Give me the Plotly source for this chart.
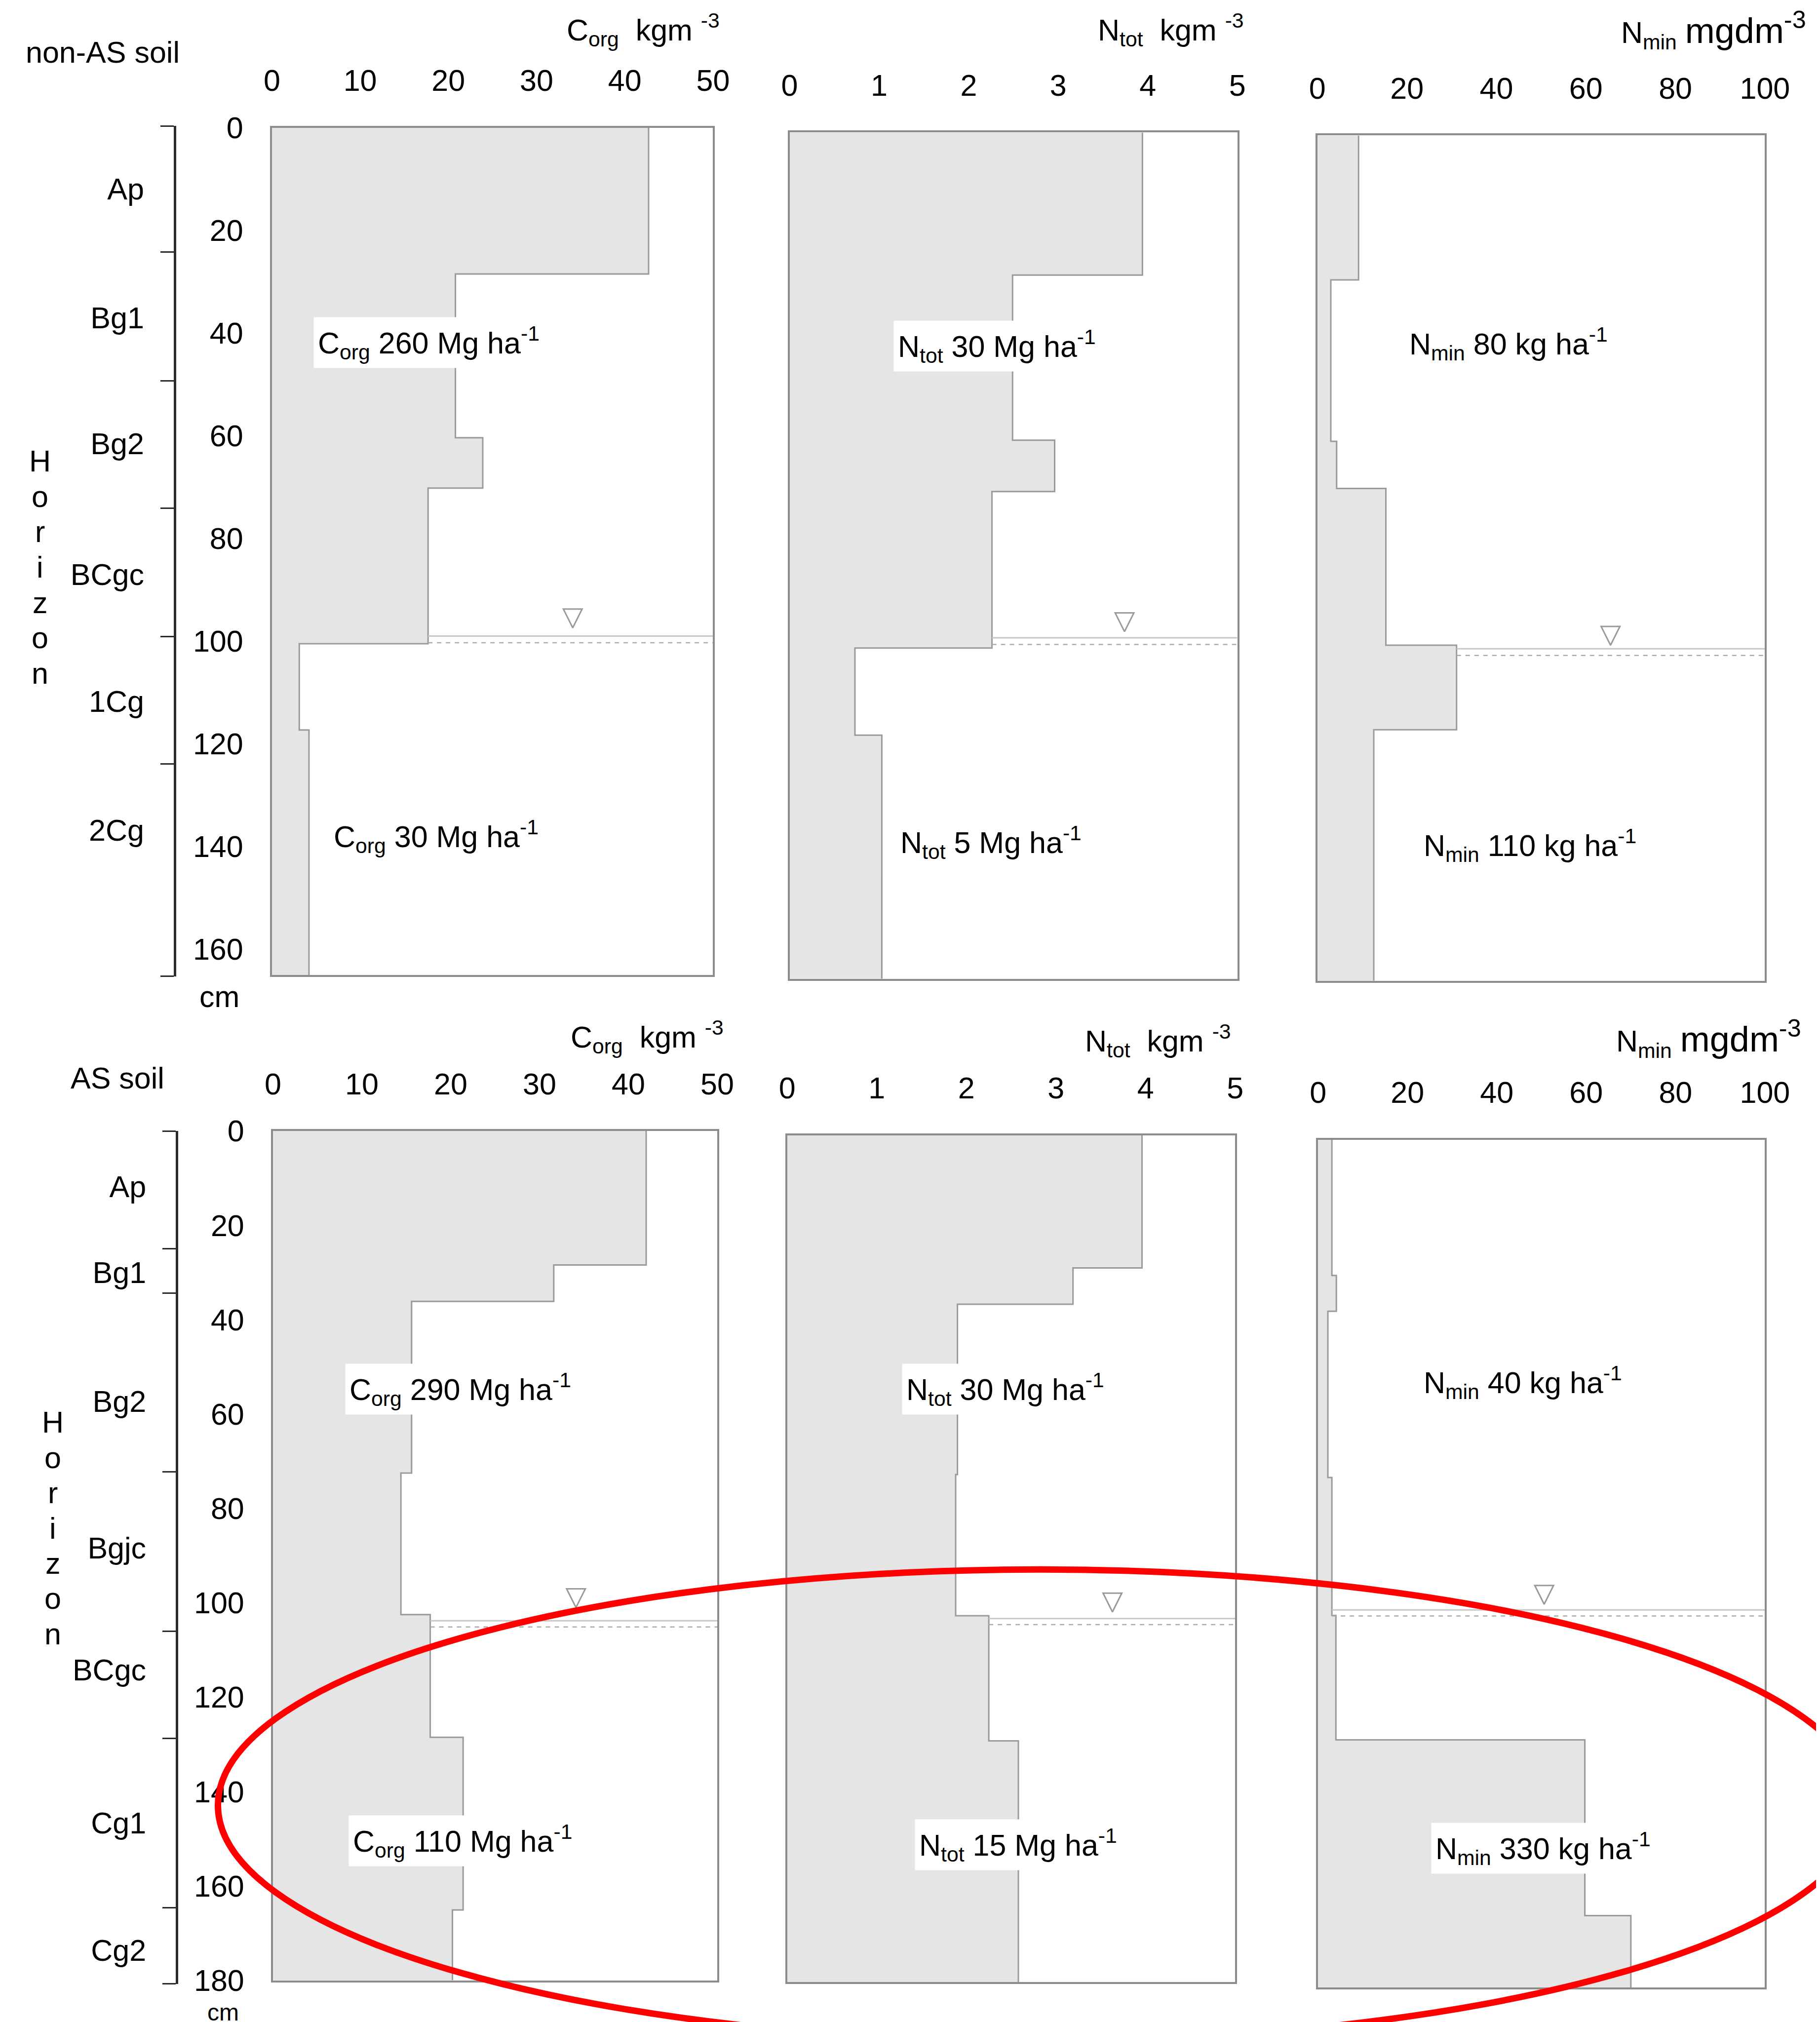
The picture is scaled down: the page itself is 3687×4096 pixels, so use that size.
import plotly.graph_objects as go

# ---------------- data ----------------
corg_ticks = [0, 10, 20, 30, 40, 50]
ntot_ticks = [0, 1, 2, 3, 4, 5]
nmin_ticks = [0, 20, 40, 60, 80, 100]
depth_ticks_top = [0, 20, 40, 60, 80, 100, 120, 140, 160]
depth_ticks_bottom = [0, 20, 40, 60, 80, 100, 120, 140, 160, 180]

# non-AS soil: layer boundaries (cm) and values per layer
top_corg_bounds = [0, 28.5, 60.4, 70.2, 100.5, 117.3, 165]
top_corg_vals = [42.7, 20.8, 23.9, 17.7, 3.1, 4.2]
top_ntot_bounds = [0, 27.8, 60, 70, 100.5, 117.5, 165]
top_ntot_vals = [3.94, 2.49, 2.96, 2.26, 0.73, 1.03]
top_nmin_bounds = [0, 28.2, 59.7, 68.9, 99.5, 116, 165]
top_nmin_vals = [9.2, 3.0, 4.3, 15.3, 31.1, 12.6]

# AS soil
bot_corg_bounds = [0, 28.4, 36.1, 72.5, 102.5, 128.5, 165.1, 180]
bot_corg_vals = [42.0, 31.6, 15.6, 14.4, 17.7, 21.4, 20.2]
bot_ntot_bounds = [0, 28.2, 35.9, 72.1, 102.1, 128.7, 180]
bot_ntot_vals = [3.96, 3.19, 1.90, 1.88, 2.25, 2.58]
bot_nmin_bounds = [0, 28.8, 36.4, 71.7, 101, 127.4, 164.7, 180]
bot_nmin_vals = [3.1, 4.1, 2.2, 3.1, 4.0, 59.7, 70.0]

top_horizons = ["Ap", "Bg1", "Bg2", "BCgc", "1Cg", "2Cg"]
top_horizon_mid = [12.2, 37.2, 61.6, 87, 111.6, 136.6]
top_horizon_bounds = [0, 24.4, 49.4, 74.2, 99.1, 123.8, 165]
bot_horizons = ["Ap", "Bg1", "Bg2", "Bgjc", "BCgc", "Cg1", "Cg2"]
bot_horizon_mid = [11.8, 30, 57.3, 88.4, 114.2, 146.7, 173.7]
bot_horizon_bounds = [0, 24.9, 34.4, 72.2, 106, 128.8, 164.7, 180.8]

# groundwater level (cm) and the triangle marker tip (value, depth) per panel
gw_depth = [99, 98.5, 100.2, 103.8, 102.7, 99.8]
gw_mark_x = [34.1, 3.74, 65.5, 34.1, 3.63, 50.6]
gw_mark_y = [97.4, 97.3, 99.5, 101.0, 101.3, 98.6]

# stock labels per panel: [upper, lower]
stock_text = [
    ["C<sub>org</sub> 260 Mg ha<sup>-1</sup>", "C<sub>org</sub> 30 Mg ha<sup>-1</sup>"],
    ["N<sub>tot</sub> 30 Mg ha<sup>-1</sup>", "N<sub>tot</sub> 5 Mg ha<sup>-1</sup>"],
    ["N<sub>min</sub> 80 kg ha<sup>-1</sup>", "N<sub>min</sub> 110 kg ha<sup>-1</sup>"],
    ["C<sub>org</sub> 290 Mg ha<sup>-1</sup>", "C<sub>org</sub> 110 Mg ha<sup>-1</sup>"],
    ["N<sub>tot</sub> 30 Mg ha<sup>-1</sup>", "N<sub>tot</sub> 15 Mg ha<sup>-1</sup>"],
    ["N<sub>min</sub> 40 kg ha<sup>-1</sup>", "N<sub>min</sub> 330 kg ha<sup>-1</sup>"],
]
stock_x = [[4.7, 6.5], [1.16, 1.19], [19.6, 22.7], [8.1, 8.5], [1.28, 1.42], [22.6, 25.3]]
stock_y = [[41.9, 138], [41.6, 138.4], [40.6, 138.5], [54.7, 150.4], [54.0, 150.8], [51.5, 150.4]]

# ---------------- layout helpers ----------------
W, H = 3687, 4096
PW, PH = 1412.0, 1568.0   # design frame (proportional to window)


def px(x):
    return x / PW


def py(y):
    return 1 - y / PH


FONT = "Liberation Sans, Arial, sans-serif"
FS = 61
FILL = "#e5e5e5"
EDGE = "#9a9a9a"
FRAME = "#8c8c8c"
TRI = "#9a9a9a"

profiles = [
    (top_corg_bounds, top_corg_vals, 50, corg_ticks, 165),
    (top_ntot_bounds, top_ntot_vals, 5, ntot_ticks, 165),
    (top_nmin_bounds, top_nmin_vals, 100, nmin_ticks, 165),
    (bot_corg_bounds, bot_corg_vals, 50, corg_ticks, 180),
    (bot_ntot_bounds, bot_ntot_vals, 5, ntot_ticks, 180),
    (bot_nmin_bounds, bot_nmin_vals, 100, nmin_ticks, 180),
]
# panel frames in design coords: (left, right, top, bottom)
boxes = [
    (207.9, 550.1, 95.9, 753.0),
    (609.5, 956.9, 99.7, 756.0),
    (1019.0, 1366.2, 102.0, 757.5),
    (208.7, 553.4, 874.0, 1532.6),
    (607.7, 955.2, 877.3, 1534.1),
    (1019.5, 1366.2, 880.8, 1538.3),
]

fig = go.Figure()
layout = dict(
    width=W, height=H, margin=dict(l=0, r=0, t=0, b=0, pad=0, autoexpand=False),
    paper_bgcolor="white", plot_bgcolor="white", showlegend=False,
    font=dict(family=FONT, size=FS, color="black"),
)
annotations = []


def value_at(bounds, vals, d):
    for i in range(len(vals)):
        if bounds[i] <= d < bounds[i + 1]:
            return vals[i]
    return vals[-1]


for i, (bounds, vals, xmax, xticks, dmax) in enumerate(profiles):
    n = i + 1
    xa = "x" if n == 1 else f"x{n}"
    ya = "y" if n == 1 else f"y{n}"
    l, r, t, b = boxes[i]
    xs, ys = [], []
    for k, v in enumerate(vals):
        xs += [v, v]
        ys += [bounds[k], bounds[k + 1]]
    fig.add_trace(go.Scatter(x=xs, y=ys, xaxis=xa, yaxis=ya, mode="lines",
                             fill="tozerox", fillcolor=FILL,
                             line=dict(color=EDGE, width=3), hoverinfo="skip"))
    # groundwater
    g = gw_depth[i]
    x0 = value_at(bounds, vals, g)
    fig.add_trace(go.Scatter(x=[x0, xmax], y=[g, g], xaxis=xa, yaxis=ya, mode="lines",
                             line=dict(color="#c8c8c8", width=3), hoverinfo="skip"))
    fig.add_trace(go.Scatter(x=[x0, xmax], y=[g + 1.3, g + 1.3], xaxis=xa, yaxis=ya,
                             mode="lines", line=dict(color="#ababab", width=2.5, dash="dash"),
                             hoverinfo="skip"))
    fig.add_trace(go.Scatter(x=[gw_mark_x[i]], y=[gw_mark_y[i]], xaxis=xa, yaxis=ya,
                             mode="markers", hoverinfo="skip",
                             marker=dict(symbol="arrow-down-open", size=38, color=TRI,
                                         line=dict(color=TRI, width=3))))
    show_y = i in (0, 3)
    layout["xaxis" if n == 1 else f"xaxis{n}"] = dict(
        domain=[px(l), px(r)], anchor=ya, side="top", range=[0, xmax],
        tickmode="array", tickvals=xticks, ticks="", showgrid=False, zeroline=False,
        showline=True, mirror=True, linecolor=FRAME, linewidth=4,
        ticklabelstandoff=46, tickfont=dict(size=FS),
    )
    layout["yaxis" if n == 1 else f"yaxis{n}"] = dict(
        domain=[py(b), py(t)], anchor=xa, range=[dmax, 0],
        tickmode="array", tickvals=(depth_ticks_top if i < 3 else depth_ticks_bottom),
        showticklabels=show_y, ticks="", showgrid=False, zeroline=False,
        showline=True, mirror=True, linecolor=FRAME, linewidth=4,
        ticklabelstandoff=42, tickfont=dict(size=FS),
    )
    for j in range(2):
        annotations.append(dict(
            text=stock_text[i][j], x=stock_x[i][j], y=stock_y[i][j], xref=xa, yref=ya,
            xanchor="left", yanchor="middle", showarrow=False, bgcolor="white",
            borderpad=8, font=dict(size=FS)))

# horizon scales
hz = [
    (7, 133.7, 94.7, 754.0, 165, top_horizons, top_horizon_mid, top_horizon_bounds),
    (8, 135.3, 874.0, 1535.4, 180.8, bot_horizons, bot_horizon_mid, bot_horizon_bounds),
]
for n, xline, ytop, ybot, dmax, names, mids, hb in hz:
    fig.add_trace(go.Scatter(x=[None], y=[None], xaxis=f"x{n}", yaxis=f"y{n}",
                             mode="lines", hoverinfo="skip"))
    layout[f"xaxis{n}"] = dict(domain=[px(xline), px(xline) + 0.01], anchor=f"y{n}",
                               visible=False, range=[0, 1])
    layout[f"yaxis{n}"] = dict(
        domain=[py(ybot), py(ytop)], anchor=f"x{n}", range=[dmax, 0], side="left",
        showline=True, linecolor="#2b2b2b", linewidth=5, showgrid=False, zeroline=False,
        tickmode="array", tickvals=mids, ticktext=names, ticks="",
        ticklabelstandoff=48, tickfont=dict(size=FS),
        minor=dict(tickmode="array", tickvals=hb, ticks="outside", ticklen=27,
                   tickwidth=3, tickcolor="#2b2b2b", showgrid=False),
    )

# titles and texts
NB = "\u00a0"
kg = f"C<sub>org</sub>{NB}{NB}kgm{NB}<sup>-3</sup>"
nt = f"N<sub>tot</sub>{NB}{NB}kgm{NB}<sup>-3</sup>"
nm = ("N<sub>min</sub> <span style=\"font-family:'Liberation Sans Narrow',Arial;"
      "font-size:72px\">mgdm<sup>-3</sup></span>")
for text, x, y in [(kg, 436, 20), (nt, 848, 20), (nm, 1254, 20),
                   (kg, 439, 801), (nt, 838, 804), (nm, 1250, 802)]:
    annotations.append(dict(text=text, x=px(x), y=py(y), xref="paper", yref="paper",
                            xanchor="left", yanchor="middle", showarrow=False,
                            font=dict(size=FS)))
for text, x, y in [("non-AS soil", 16, 37.5), ("AS soil", 51, 833)]:
    annotations.append(dict(text=text, x=px(x), y=py(y), xref="paper", yref="paper",
                            xanchor="left", yanchor="middle", showarrow=False,
                            font=dict(size=FS)))
for x, y, fs in [(167, 770, FS), (170, 1557.5, 48)]:
    annotations.append(dict(text="cm", x=px(x), y=py(y), xref="paper", yref="paper",
                            xanchor="center", yanchor="middle", showarrow=False,
                            font=dict(size=fs)))
for xc, y0, y1 in [(28, 354.5, 519), (38, 1100, 1264)]:
    letters = "Horizon"
    for k, ch in enumerate(letters):
        yy = y0 + (y1 - y0) * k / (len(letters) - 1)
        annotations.append(dict(text=ch, x=px(xc), y=py(yy), xref="paper", yref="paper",
                                xanchor="center", yanchor="middle", showarrow=False,
                                font=dict(size=FS)))

layout["annotations"] = annotations
layout["shapes"] = [dict(type="circle", xref="paper", yref="paper",
                         x0=px(804 - 638), x1=px(804 + 638),
                         y0=py(1397 + 183), y1=py(1397 - 183),
                         line=dict(color="#ff0000", width=13))]
fig.update_layout(**layout)
fig.write_html("out.html")
